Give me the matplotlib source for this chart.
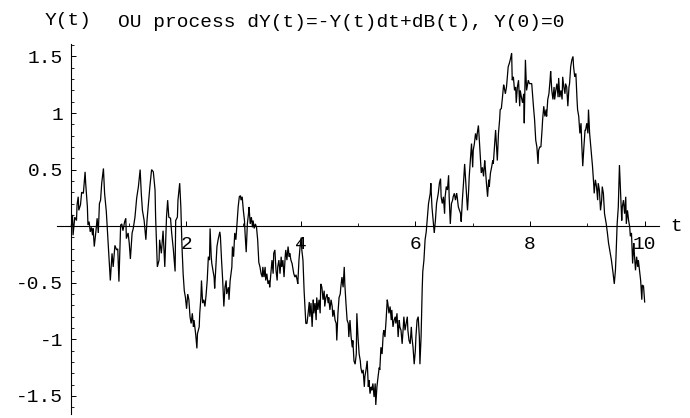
import matplotlib
matplotlib.use("Agg")
import matplotlib.pyplot as plt
from matplotlib.ticker import FixedLocator
import numpy as np

# ---- data: (t, Y(t)) samples of the OU path ----
path_0_2 = [(0.00,0.00),(0.02,0.10),(0.03,-0.08),(0.06,0.08),(0.09,0.05),(0.10,0.19),(0.12,0.26),(0.13,0.14),(0.16,0.19),(0.18,0.30),
            (0.21,0.29),(0.24,0.48),(0.25,0.38),(0.28,0.17),(0.29,0.01),(0.31,0.04),(0.33,-0.05),(0.35,-0.01),(0.37,-0.08),(0.38,-0.02),
            (0.40,-0.18),(0.43,-0.04),(0.45,0.07),(0.47,-0.06),(0.49,0.20),(0.51,0.23),(0.53,0.38),(0.56,0.51),(0.58,0.29),(0.61,0.13),
            (0.63,-0.04),(0.66,-0.30),(0.68,-0.48),(0.71,-0.24),(0.73,-0.36),(0.76,-0.17),(0.79,-0.21),(0.81,-0.20),(0.83,-0.49),(0.86,0.01),
            (0.88,0.02),(0.90,-0.04),(0.93,0.04),(0.95,0.07),(0.96,-0.11),(0.99,-0.06),(1.01,-0.15),(1.03,-0.29),(1.06,-0.06),(1.08,-0.02),
            (1.11,0.08),(1.14,0.25),(1.17,0.35),(1.20,0.50),(1.22,0.29),(1.24,0.14),(1.27,0.05),(1.30,-0.12),(1.32,0.05),(1.35,0.23),
            (1.37,0.35),(1.40,0.50),(1.43,0.48),(1.46,0.32),(1.47,0.08),(1.50,-0.36),(1.53,-0.30),(1.54,-0.12),(1.57,-0.24),(1.60,-0.04),
            (1.63,-0.36),(1.66,0.08),(1.68,0.23),(1.70,0.08),(1.73,0.07),(1.75,-0.06),(1.78,-0.21),(1.81,-0.40),(1.82,0.05),(1.85,0.08)]

path_2_4 = [(1.86,0.23),(1.89,0.38),(1.91,0.17),(1.92,-0.01),(1.93,-0.18),(1.95,-0.42),(1.97,-0.57),(1.99,-0.63),(2.01,-0.73),(2.03,-0.60),
            (2.05,-0.65),(2.07,-0.80),(2.09,-0.86),(2.11,-0.77),(2.13,-0.89),(2.14,-0.83),(2.17,-0.96),(2.19,-1.08),(2.20,-0.95),(2.23,-0.89),
            (2.24,-0.77),(2.26,-0.63),(2.27,-0.48),(2.29,-0.68),(2.31,-0.65),(2.33,-0.71),(2.35,-0.61),(2.37,-0.48),(2.39,-0.27),(2.41,-0.30),
            (2.42,-0.02),(2.44,-0.27),(2.45,-0.33),(2.47,-0.39),(2.49,-0.45),(2.50,-0.55),(2.52,-0.36),(2.54,-0.18),(2.56,-0.12),(2.59,-0.05),
            (2.60,-0.09),(2.62,-0.30),(2.64,-0.48),(2.66,-0.71),(2.68,-0.54),(2.70,-0.48),(2.71,-0.60),(2.74,-0.54),(2.75,-0.65),(2.77,-0.48),
            (2.80,-0.36),(2.81,-0.18),(2.83,-0.27),(2.85,-0.06),(2.87,-0.12),(2.89,0.02),(2.91,0.17),(2.93,0.26),(2.95,0.27),(2.96,0.23),
            (2.98,0.26),(3.00,0.14),(3.02,0.05),(3.03,-0.06),(3.05,-0.23),(3.07,0.02),(3.09,0.11),(3.10,0.17),(3.12,0.02),(3.14,0.08),
            (3.16,-0.01),(3.17,0.05),(3.19,-0.02),(3.21,0.02),(3.23,-0.01),(3.25,-0.12),(3.27,-0.32),(3.29,-0.36),(3.31,-0.42),(3.33,-0.45),
            (3.34,-0.36),(3.36,-0.45),(3.38,-0.36),(3.39,-0.48),(3.41,-0.42),(3.43,-0.51),(3.45,-0.48),(3.46,-0.54),(3.48,-0.42),(3.50,-0.30),
            (3.52,-0.42),(3.53,-0.24),(3.55,-0.21),(3.57,-0.39),(3.59,-0.48),(3.60,-0.36),(3.62,-0.30),(3.64,-0.42),(3.66,-0.27),(3.67,-0.36),
            (3.69,-0.30),(3.71,-0.45),(3.73,-0.27),(3.74,-0.21),(3.76,-0.30),(3.78,-0.18),(3.80,-0.27),(3.81,-0.24),(3.83,-0.30),(3.85,-0.33),
            (3.87,-0.39),(3.88,-0.42),(3.90,-0.45),(3.92,-0.43),(3.94,-0.48),(3.95,-0.51),(3.97,-0.30),(3.99,-0.18),(4.01,-0.10),(4.02,-0.21),
            (4.04,-0.30),(4.06,-0.57),(4.08,-0.77),(4.09,-0.86)]

path_4_6 = [(4.11,-0.86),(4.13,-0.77),(4.15,-0.67),(4.16,-0.80),(4.18,-0.68),(4.20,-0.89),(4.22,-0.65),(4.23,-0.77),(4.25,-0.68),(4.27,-0.83),
            (4.28,-0.63),(4.30,-0.74),(4.32,-0.65),(4.34,-0.77),(4.35,-0.51),(4.37,-0.54),(4.39,-0.65),(4.41,-0.57),(4.42,-0.71),(4.44,-0.63),
            (4.46,-0.60),(4.48,-0.68),(4.49,-0.63),(4.51,-0.74),(4.53,-0.65),(4.55,-0.71),(4.56,-0.80),(4.58,-0.74),(4.60,-0.83),(4.62,-0.86),
            (4.63,-1.01),(4.65,-0.77),(4.67,-0.63),(4.69,-0.60),(4.70,-0.54),(4.72,-0.45),(4.74,-0.54),(4.76,-0.36),(4.77,-0.51),(4.79,-0.68),
            (4.81,-0.83),(4.83,-0.86),(4.84,-0.98),(4.86,-0.83),(4.88,-0.98),(4.90,-1.07),(4.91,-1.01),(4.93,-1.19),(4.95,-1.22),(4.97,-1.13),
            (4.98,-0.77),(5.00,-0.98),(5.02,-1.13),(5.04,-1.19),(5.05,-1.25),(5.07,-1.30),(5.09,-1.27),(5.11,-1.42),(5.12,-1.33),(5.14,-1.27),
            (5.16,-1.19),(5.18,-1.42),(5.19,-1.36),(5.21,-1.48),(5.23,-1.42),(5.24,-1.45),(5.26,-1.39),(5.28,-1.51),(5.30,-1.39),(5.31,-1.58),
            (5.33,-1.42),(5.35,-1.33),(5.37,-1.25),(5.38,-1.27),(5.40,-1.07),(5.42,-1.13),(5.44,-0.95),(5.45,-0.92),(5.47,-0.98),(5.49,-0.83),
            (5.51,-0.65),(5.52,-0.68),(5.54,-0.77),(5.56,-0.71),(5.58,-0.83),(5.59,-0.74),(5.61,-0.89),(5.63,-0.83),(5.65,-0.80),(5.66,-0.86),
            (5.68,-0.77),(5.70,-0.98),(5.72,-0.83),(5.73,-0.89),(5.75,-0.92),(5.77,-1.04),(5.79,-0.89),(5.80,-0.80),(5.82,-0.92),(5.84,-0.86),
            (5.86,-0.80),(5.87,-0.92),(5.89,-1.01),(5.91,-1.04),(5.93,-0.89),(5.94,-0.98),(5.96,-1.07),(5.98,-1.22),(6.00,-1.10),(6.01,-0.98),
            (6.03,-0.83),(6.05,-0.80),(6.07,-0.98),(6.08,-1.22),(6.10,-0.98),(6.12,-0.55),(6.13,-0.40),(6.15,-0.30),(6.17,-0.12),(6.19,-0.05)]

path_6_8 = [(6.23,0.20),(6.26,0.29),(6.27,0.38),(6.29,0.17),(6.32,-0.01),(6.33,-0.06),(6.35,0.05),(6.37,0.20),(6.40,0.29),(6.42,0.38),
            (6.44,0.42),(6.45,0.26),(6.47,0.20),(6.49,0.26),(6.51,0.11),(6.52,0.26),(6.54,0.35),(6.56,0.32),(6.58,0.45),(6.59,0.26),
            (6.61,0.02),(6.63,0.20),(6.65,0.23),(6.66,0.26),(6.68,0.29),(6.70,0.23),(6.72,0.29),(6.73,0.26),(6.75,0.17),(6.77,0.14),
            (6.79,0.11),(6.80,0.04),(6.82,0.23),(6.84,0.38),(6.86,0.55),(6.87,0.47),(6.89,0.32),(6.91,0.14),(6.93,0.32),(6.94,0.44),
            (6.96,0.58),(6.98,0.73),(7.00,0.52),(7.01,0.67),(7.03,0.73),(7.05,0.82),(7.07,0.76),(7.08,0.82),(7.10,0.89),(7.12,0.73),
            (7.14,0.55),(7.15,0.47),(7.17,0.52),(7.19,0.44),(7.21,0.58),(7.22,0.52),(7.24,0.38),(7.26,0.26),(7.28,0.41),(7.29,0.35),
            (7.31,0.47),(7.33,0.52),(7.35,0.58),(7.36,0.55),(7.38,0.70),(7.40,0.85),(7.41,0.76),(7.43,0.58),(7.45,0.82),(7.47,0.94),
            (7.48,1.03),(7.50,1.04),(7.52,1.14),(7.54,1.25),(7.55,1.23),(7.57,1.17),(7.59,1.23),(7.61,1.35),(7.62,1.41),(7.64,1.44),
            (7.66,1.48),(7.68,1.53),(7.69,1.29),(7.71,1.32),(7.73,1.20),(7.75,1.23),(7.76,1.09),(7.78,1.23),(7.80,1.29),(7.82,1.06),
            (7.83,1.20),(7.85,1.14),(7.87,1.09),(7.89,1.17),(7.90,0.91),(7.92,1.47),(7.94,1.20),(7.96,1.26),(7.97,1.29),(7.99,1.26)]

path_8_10 = [(8.03,1.26),(8.06,1.06),(8.08,0.94),(8.10,0.76),(8.12,0.70),(8.14,0.55),(8.15,0.67),(8.17,0.70),(8.19,0.70),(8.21,0.85),
             (8.22,0.94),(8.24,1.06),(8.26,0.97),(8.28,1.03),(8.29,0.97),(8.31,1.12),(8.33,1.17),(8.35,1.29),(8.36,1.37),(8.38,1.20),
             (8.40,1.12),(8.42,1.23),(8.43,1.12),(8.45,1.20),(8.47,1.26),(8.49,1.14),(8.50,1.31),(8.52,1.14),(8.54,1.20),(8.56,1.12),
             (8.57,1.32),(8.59,1.23),(8.61,1.17),(8.62,1.26),(8.64,1.23),(8.66,1.06),(8.68,1.23),(8.69,1.26),(8.71,1.41),(8.73,1.47),
             (8.75,1.50),(8.76,1.41),(8.78,1.32),(8.80,1.35),(8.82,1.12),(8.83,1.03),(8.85,0.97),(8.87,0.82),(8.89,0.91),(8.90,0.76),
             (8.92,0.53),(8.94,0.70),(8.96,0.85),(8.97,0.85),(8.99,0.91),(9.01,0.82),(9.02,1.03),(9.04,0.82),(9.05,0.76),(9.07,0.64),
             (9.09,0.53),(9.11,0.38),(9.12,0.29),(9.14,0.41),(9.16,0.35),(9.18,0.23),(9.19,0.38),(9.21,0.32),(9.23,0.14),(9.25,0.23),
             (9.26,0.35),(9.28,0.29),(9.30,0.11),(9.33,0.02),(9.35,-0.06),(9.37,-0.15),(9.40,-0.24),(9.42,-0.30),(9.45,-0.42),(9.47,-0.51),
             (9.49,-0.39),(9.50,-0.27),(9.52,0.02),(9.54,0.17),(9.56,0.54),(9.58,0.29),(9.60,0.05),(9.61,0.17),(9.63,0.23),(9.65,0.11),
             (9.67,0.26),(9.68,0.02),(9.70,0.14),(9.72,0.05),(9.74,-0.01),(9.75,-0.09),(9.77,-0.06),(9.79,-0.33),(9.81,-0.15),(9.82,-0.24),
             (9.84,-0.39),(9.86,-0.27),(9.88,-0.36),(9.89,-0.30),(9.91,-0.39),(9.93,-0.48),(9.95,-0.65),(9.96,-0.52),(9.98,-0.53),(10.00,-0.67)]

x_major_ticks = [2, 4, 6, 8, 10]
x_minor_ticks = [1, 3, 5, 7, 9]
y_major_ticks = [-1.5, -1, -0.5, 0.5, 1, 1.5]
y_tick_labels = ["-1.5", "-1", "-0.5", "0.5", "1", "1.5"]
title_text = "OU process dY(t)=-Y(t)dt+dB(t), Y(0)=0"
x_label = "t"
y_label = "Y(t)"

# ---- figure ----
FONT = "Liberation Mono"
FS = 14
plt.rcParams["font.family"] = [FONT, "DejaVu Sans"]

W, H = 690, 418
fig = plt.figure(figsize=(W / 100, H / 100), dpi=100)
fig.patch.set_facecolor("white")
ax = fig.add_axes([57 / W, 4 / H, 602 / W, 370 / H])
ax.set_facecolor("none")

pts = path_0_2 + path_2_4 + path_4_6 + path_6_8 + path_8_10
t = np.array([p[0] for p in pts])
y = np.array([p[1] for p in pts])
ax.plot(t, y, color="black", lw=0.9, solid_joinstyle="miter")

ax.set_xlim(-0.25, 10.25)
ax.set_ylim(-1.66, 1.61)

for s in ("top", "right"):
    ax.spines[s].set_visible(False)
ax.spines["left"].set_position(("data", 0))
ax.spines["bottom"].set_position(("data", 0))
for s in ("left", "bottom"):
    ax.spines[s].set_linewidth(0.8)
    ax.spines[s].set_color("black")

ax.set_xticks(x_major_ticks)
ax.set_xticklabels([str(v) for v in x_major_ticks])
ax.xaxis.set_minor_locator(FixedLocator(x_minor_ticks))
ax.tick_params(axis="x", which="major", direction="in", length=3.5, width=0.7, pad=7,
               labelsize=FS, labelfontfamily=FONT)
ax.tick_params(axis="x", which="minor", direction="in", length=2.5, width=0.6)

ax.set_yticks(y_major_ticks)
ax.set_yticklabels(y_tick_labels)
minor_y = [round(v, 1) for v in np.arange(-1.6, 1.61, 0.1) if abs(round(v, 1) * 2 - round(round(v, 1) * 2)) > 1e-6]
ax.yaxis.set_minor_locator(FixedLocator(minor_y))
ax.tick_params(axis="y", which="major", direction="in", length=3.5, width=0.7, pad=6,
               labelsize=FS, labelfontfamily=FONT)
ax.tick_params(axis="y", which="minor", direction="in", length=2.0, width=0.6)

ax.text(10.45, 0, x_label, ha="left", va="center", fontsize=FS, family=FONT, clip_on=False)
fig.text(68 / W, 1 - 25 / H, y_label, ha="center", va="baseline", fontsize=FS, family=FONT)
fig.text(118 / W, 1 - 27 / H, title_text, ha="left", va="baseline", fontsize=FS, family=FONT)

fig.savefig("out.png", dpi=100)
